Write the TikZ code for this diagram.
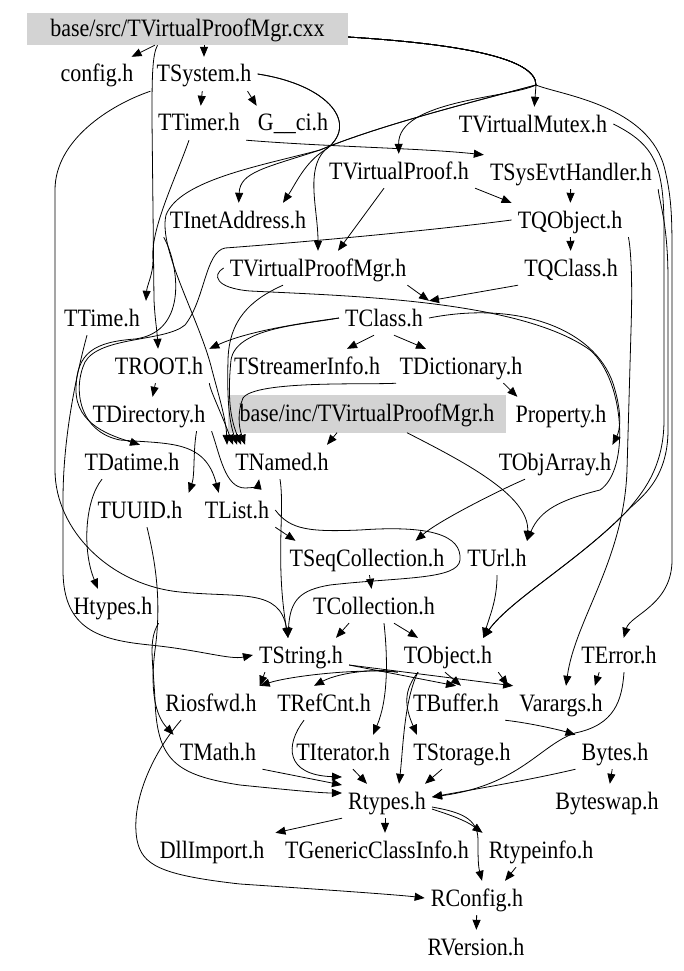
\documentclass[tikz,border=0pt]{standalone}
\usepackage{fontspec}
\setmainfont{Liberation Serif}
\newfontfamily\hdrfont[FakeStretch=0.88]{Liberation Serif}
\usetikzlibrary{arrows.meta}
\definecolor{boxgray}{HTML}{D3D3D3}
\tikzset{
	hdr/.style={inner xsep=6pt, inner ysep=0pt, minimum height=34pt, text height=19pt, text depth=3pt, font=\hdrfont\fontsize{25}{28}\selectfont},
	srcbox/.style={hdr, fill=boxgray},
	dep/.style={-{Stealth[inset=0pt,length=10pt,width=8pt]}, line width=0.8pt}
}
\begin{document}
\begin{tikzpicture}[x=1pt,y=-1pt]
	\useasboundingbox (0,0) rectangle (683,971);

	\node[srcbox, minimum width=321pt, minimum height=32pt] (cxx) at (187.5,29) {base/src/TVirtualProofMgr.cxx};
	\node[hdr] (config) at (97,74) {config.h};
	\node[hdr] (tsystem) at (204,74) {TSystem.h};
	\node[hdr] (ttimer) at (199,123) {TTimer.h};
	\node[hdr] (gci) at (293,123) {G\_\_ci.h};
	\node[hdr] (tvmutex) at (533,124) {TVirtualMutex.h};
	\node[hdr] (tvproof) at (399,171) {TVirtualProof.h};
	\node[hdr] (tsysevt) at (571,172) {TSysEvtHandler.h};
	\node[hdr] (tinet) at (238,220) {TInetAddress.h};
	\node[hdr] (tqobject) at (570,220) {TQObject.h};
	\node[hdr] (tvpmgr) at (318,268) {TVirtualProofMgr.h};
	\node[hdr] (tqclass) at (571,268) {TQClass.h};
	\node[hdr] (ttime) at (102,318) {TTime.h};
	\node[hdr] (tclass) at (384,318) {TClass.h};
	\node[hdr] (troot) at (159,366) {TROOT.h};
	\node[hdr] (tstreamer) at (307,366) {TStreamerInfo.h};
	\node[hdr] (tdict) at (461,366) {TDictionary.h};
	\node[hdr] (tdir) at (149,414) {TDirectory.h};
	\node[srcbox, minimum width=278pt, minimum height=38pt] (baseinc) at (367,413.5) {base/inc/TVirtualProofMgr.h};
	\node[hdr] (property) at (561,414) {Property.h};
	\node[hdr] (tdatime) at (132,462) {TDatime.h};
	\node[hdr] (tnamed) at (282,462) {TNamed.h};
	\node[hdr] (tobjarray) at (555,462) {TObjArray.h};
	\node[hdr] (tuuid) at (140,510) {TUUID.h};
	\node[hdr] (tlist) at (237,510) {TList.h};
	\node[hdr] (tseqcoll) at (367,558) {TSeqCollection.h};
	\node[hdr] (turl) at (497,558) {TUrl.h};
	\node[hdr] (htypes) at (113,606) {Htypes.h};
	\node[hdr] (tcoll) at (374,606) {TCollection.h};
	\node[hdr] (tstring) at (301,655) {TString.h};
	\node[hdr] (tobject) at (448,655) {TObject.h};
	\node[hdr] (terror) at (619,655) {TError.h};
	\node[hdr] (riosfwd) at (211,703) {Riosfwd.h};
	\node[hdr] (trefcnt) at (324,703) {TRefCnt.h};
	\node[hdr] (tbuffer) at (456,703) {TBuffer.h};
	\node[hdr] (varargs) at (561,703) {Varargs.h};
	\node[hdr] (tmath) at (218,752) {TMath.h};
	\node[hdr] (titer) at (343,752) {TIterator.h};
	\node[hdr] (tstorage) at (462,752) {TStorage.h};
	\node[hdr] (bytes) at (615,752) {Bytes.h};
	\node[hdr] (rtypes) at (387,801) {Rtypes.h};
	\node[hdr] (byteswap) at (607,801) {Byteswap.h};
	\node[hdr] (dllimport) at (212,850) {DllImport.h};
	\node[hdr] (tgeneric) at (377,850) {TGenericClassInfo.h};
	\node[hdr] (rtypeinfo) at (541,850) {Rtypeinfo.h};
	\node[hdr] (rconfig) at (477,898) {RConfig.h};
	\node[hdr] (rversion) at (476,947) {RVersion.h};

	\draw[dep] (cxx) -- (config);
	\draw[dep] (cxx.south -| tsystem) -- (tsystem);
	\draw[dep] ([yshift=-8pt]cxx.east) .. controls (460,44) and (536,58) .. (536,85) -- (tvmutex);
	\draw[dep] ([yshift=-8pt]cxx.east) .. controls (460,44) and (536,58) .. (536,85) .. controls (510,98) and (398,100) .. (tvproof);
	\draw[dep] ([yshift=-8pt]cxx.east) .. controls (460,44) and (536,58) .. (536,85) .. controls (480,100) and (380,125) .. (320,150) .. controls (265,168) and (240,172) .. (tinet);
	\draw[dep] ([yshift=-8pt]cxx.east) .. controls (460,44) and (536,58) .. (536,85) .. controls (560,95) and (650,105) .. (665,170) .. controls (672,200) and (672,220) .. (672,260) -- (672,560) .. controls (672,605) and (630,615) .. (terror);
	\draw[dep] ([xshift=-30pt]cxx.south) .. controls (152,55) and (152,80) .. (152,120) -- (154,300) .. controls (155,320) and (157,330) .. (troot);
	\draw[dep] ([yshift=-8pt]cxx.east) .. controls (460,44) and (536,58) .. (536,85) .. controls (480,100) and (380,125) .. (320,150) .. controls (260,166) and (180,180) .. (166,215) .. controls (158,250) and (200,320) .. (212,370) .. controls (220,400) and (226,420) .. ([xshift=-2pt]tnamed.north west);

	\draw[dep] (tsystem) -- (ttimer);
	\draw[dep] ([xshift=-10pt]tsystem.south east) -- ([xshift=5pt]gci.north west);
	\draw[dep] (tsystem.south west) .. controls (110,105) and (55,140) .. (55,190) -- (55,470) .. controls (55,530) and (110,585) .. (180,592) .. controls (240,598) and (280,588) .. ([xshift=-13pt]tstring.north);
	\draw[dep] (tsystem.east) .. controls (330,85) and (360,125) .. (325,150) .. controls (305,162) and (295,185) .. ([xshift=45pt]tinet.north);
	\draw[dep] (tsystem.east) .. controls (330,85) and (360,125) .. (325,150) .. controls (305,170) and (318,210) .. (tvpmgr);

	\draw[dep] (ttimer.south east) .. controls (330,147) and (420,148) .. (tsysevt.north west);
	\draw[dep] ([xshift=-10pt]ttimer.south) .. controls (175,180) and (150,230) .. (153,260) .. controls (153,275) and (147,285) .. (ttime.north east);

	\draw[dep] (tvmutex.east) .. controls (655,145) and (664,165) .. (664,230) -- (664,420) .. controls (664,470) and (640,495) .. (628,510) .. controls (580,560) and (510,600) .. ([xshift=-15pt]tobject.north east);
	\draw[dep] (tvproof.south east) -- (tqobject.north west);
	\draw[dep] ([xshift=-15pt]tvproof.south) -- ([xshift=20pt]tvpmgr.north);
	\draw[dep] (tsysevt) -- (tqobject);
	\draw[dep] (tsysevt.south east) .. controls (660,205) and (668,225) .. (668,280) -- (668,430) .. controls (668,480) and (640,498) .. (628,510) .. controls (580,560) and (510,600) .. ([xshift=-15pt]tobject.north east);

	\draw[dep] (tqobject) -- (tqclass);
	\draw[dep] (tqobject.south east) .. controls (630,245) and (633,270) .. (631,330) -- (627,470) .. controls (624,560) and (575,620) .. ([xshift=5pt]varargs.north);
	\draw[dep] (tqobject.west) .. controls (420,232) and (280,244) .. (225,248) .. controls (205,252) and (205,300) .. (185,325) .. controls (165,342) and (100,336) .. (85,362) .. controls (72,390) and (80,432) .. (120,440) .. controls (170,444) and (205,440) .. ([xshift=20pt]tlist.north west);
	\draw[dep] (tinet.south west) .. controls (178,262) and (190,332) .. (135,339) .. controls (95,342) and (76,352) .. (76,390) .. controls (76,425) and (112,436) .. ([xshift=8pt]tdatime.north);

	\draw[dep] ([xshift=-5pt]tvpmgr.south east) -- (tclass.north east);
	\draw[dep] (tqclass.south west) -- (tclass.north east);
	\draw[dep] ([xshift=-35pt]tvpmgr.south) .. controls (250,300) and (229,320) .. (228,360) .. controls (227,400) and (229,420) .. ([xshift=8pt]tnamed.north west);
	\draw[dep] (tvpmgr.west) .. controls (212,275) and (215,288) .. (250,291) .. controls (350,296) and (520,300) .. (590,350) .. controls (625,380) and (630,470) .. (600,490) .. controls (560,500) and (540,510) .. ([xshift=30pt]turl.north);

	\draw[dep] (tclass.west) .. controls (310,322) and (250,330) .. (troot.north east);
	\draw[dep] ([xshift=-10pt]tclass.south) -- ([xshift=40pt]tstreamer.north);
	\draw[dep] ([xshift=10pt]tclass.south) -- ([xshift=-35pt]tdict.north);
	\draw[dep] (tclass.west) .. controls (300,325) and (236,328) .. (231,360) .. controls (227,400) and (231,420) .. ([xshift=12pt]tnamed.north west);
	\draw[dep] (tclass.east) .. controls (520,300) and (600,330) .. (615,390) .. controls (622,415) and (620,430) .. ([xshift=-5pt]tobjarray.north east);

	\draw[dep] ([xshift=-25pt]tdict.south east) -- ([xshift=8pt]property.north west);
	\draw[dep] ([xshift=-65pt]tdict.south) .. controls (370,385) and (255,380) .. (243,398) .. controls (238,410) and (238,425) .. ([xshift=16pt]tnamed.north west);

	\draw[dep] (troot) -- (tdir);
	\draw[dep] (troot.south east) .. controls (210,390) and (220,410) .. ([xshift=4pt]tnamed.north west);
	\draw[dep] (tdir.south east) .. controls (220,455) and (225,488) .. (245,488) .. controls (252,488) and (258,486) .. ([xshift=30pt]tnamed.south west);
	\draw[dep] ([xshift=-15pt]tdir.south east) .. controls (193,450) and (195,475) .. (tuuid.north east);

	\draw[dep] ([xshift=-30pt]tdatime.south) .. controls (85,500) and (82,550) .. ([xshift=-15pt]htypes.north);
	\draw[dep] ([xshift=7pt]tuuid.south) .. controls (155,560) and (162,600) .. (155,650) .. controls (150,690) and (155,715) .. (tmath.north west);
	\draw[dep] (htypes.south east) .. controls (148,640) and (153,660) .. (155,700) .. controls (157,760) and (175,775) .. (240,785) .. controls (290,790) and (320,793) .. ([yshift=8pt]rtypes.west);
	\draw[dep] ([xshift=-15pt]ttime.south) .. controls (75,380) and (63,440) .. (63,500) -- (63,570) .. controls (63,630) and (100,640) .. (150,645) .. controls (200,650) and (230,660) .. (tstring.west);

	\draw[dep] ([xshift=-30pt]baseinc.south) -- ([xshift=45pt]tnamed.north);
	\draw[dep] ([xshift=40pt]baseinc.south) .. controls (460,460) and (530,495) .. ([xshift=30pt]turl.north);
	\draw[dep] ([xshift=-2pt]tnamed.south) .. controls (285,510) and (275,560) .. ([xshift=-13pt]tstring.north);

	\draw[dep] (tlist.south east) -- ([xshift=12pt]tseqcoll.north west);
	\draw[dep] (tlist.east) .. controls (290,530) and (310,532) .. (360,530) .. controls (430,525) and (462,535) .. (460,560) .. controls (458,580) and (400,577) .. (330,585) .. controls (300,590) and (290,600) .. ([xshift=-13pt]tstring.north);
	\draw[dep] ([xshift=-30pt]tobjarray.south) .. controls (500,490) and (440,520) .. ([xshift=-35pt]tseqcoll.north east);
	\draw[dep] (tseqcoll) -- (tcoll);
	\draw[dep] (turl.south) .. controls (497,600) and (490,615) .. ([xshift=-15pt]tobject.north east);

	\draw[dep] ([xshift=-25pt]tcoll.south) -- ([xshift=35pt]tstring.north);
	\draw[dep] ([xshift=20pt]tcoll.south) -- ([xshift=-30pt]tobject.north);
	\draw[dep] ([xshift=10pt]tcoll.south) .. controls (388,660) and (388,700) .. ([xshift=30pt]titer.north);

	\draw[dep] ([xshift=12pt]tstring.south west) -- ([xshift=-3pt]riosfwd.north east);
	\draw[dep] ([yshift=-10pt]tstring.east) -- (varargs.north west);
	\draw[dep] ([yshift=-10pt]tstring.east) -- (tbuffer.north);
	\draw[dep] (tobject.south west) .. controls (380,668) and (340,672) .. ([xshift=-10pt]trefcnt.north);
	\draw[dep] (tobject.south west) .. controls (360,668) and (290,676) .. ([xshift=-3pt]riosfwd.north east);
	\draw[dep] ([xshift=-3pt]tobject.south) -- ([xshift=5pt]tbuffer.north);
	\draw[dep] (tobject.south east) -- ([xshift=-5pt]varargs.north west);
	\draw[dep] ([xshift=-30pt]tobject.south) .. controls (404,690) and (404,705) .. ([xshift=-45pt]tstorage.north);
	\draw[dep] ([xshift=-30pt]tobject.south) .. controls (404,700) and (403,750) .. ([xshift=12pt]rtypes.north);
	\draw[dep] ([xshift=24pt]terror.south west) -- ([xshift=-14pt]varargs.north east);
	\draw[dep] ([xshift=5pt]terror.south) .. controls (622,700) and (615,725) .. (575,733) .. controls (540,745) and (520,785) .. ([yshift=4pt]rtypes.east);

	\draw[dep] ([xshift=-30pt]riosfwd.south) .. controls (155,750) and (130,800) .. (137,840) .. controls (142,865) and (160,875) .. (240,884) .. controls (330,890) and (400,895) .. (rconfig.west);
	\draw[dep] ([xshift=-20pt]trefcnt.south) .. controls (285,745) and (285,775) .. ([yshift=24pt]rtypes.west);
	\draw[dep] (tbuffer.south east) .. controls (530,723) and (560,730) .. (bytes.north west);
	\draw[dep] (tmath.south east) -- ([yshift=16pt]rtypes.west);
	\draw[dep] ([xshift=10pt]titer.south) -- ([xshift=-20pt]rtypes.north);
	\draw[dep] ([xshift=-20pt]tstorage.south) -- ([xshift=38pt]rtypes.north);
	\draw[dep] (bytes.south west) .. controls (530,780) and (470,790) .. ([yshift=4pt]rtypes.east);
	\draw[dep] (bytes) -- (byteswap);

	\draw[dep] (rtypes.south west) -- ([xshift=5pt]dllimport.north east);
	\draw[dep] ([xshift=-2pt]rtypes.south) -- ([xshift=8pt]tgeneric.north);
	\draw[dep] ([yshift=-8pt]rtypes.east) .. controls (450,815) and (465,820) .. (rtypeinfo.north west);
	\draw[dep] ([yshift=-6pt]rtypes.east) .. controls (460,812) and (478,818) .. (478,840) .. controls (478,855) and (478,865) .. ([xshift=5pt]rconfig.north);
	\draw[dep] ([xshift=-25pt]rtypeinfo.south) -- ([xshift=28pt]rconfig.north);
	\draw[dep] (rconfig) -- (rversion);
\end{tikzpicture}
\end{document}
